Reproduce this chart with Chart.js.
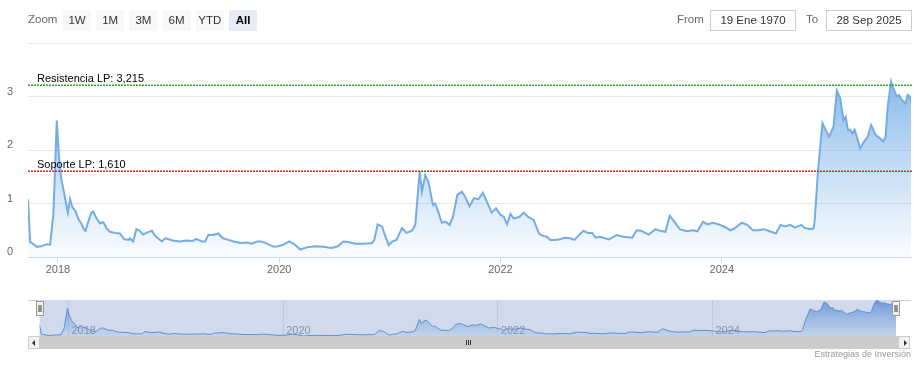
<!DOCTYPE html>
<html lang="es">
<head>
<meta charset="UTF-8">
<title>Histórico de cotización</title>
<script src="https://cdn.jsdelivr.net/npm/chart.js"></script>
<style>
  body { margin: 0; background: #fff; font-family: "Liberation Sans", Arial, sans-serif; }
  .wrap { position: relative; width: 922px; height: 367px; overflow: hidden; }
  canvas { position: absolute; left: 0; }
  #mainChart { top: 0; }
  #navChart { top: 290px; }
  .zoom-label { position: absolute; left: 28px; top: 13px; font-size: 11.5px; color: #666; }
  .range-btn { position: absolute; top: 10px; width: 28px; height: 21px; line-height: 21px; text-align: center;
               background: #f7f7f7; color: #333; font-size: 11.5px; }
  .range-btn.active { background: #e6ebf5; font-weight: bold; color: #000; }
  .date-label { position: absolute; top: 13px; font-size: 11.5px; color: #666; }
  .date-box { position: absolute; top: 10px; width: 86px; height: 21px; box-sizing: border-box; border: 1px solid #ccc;
              font-size: 11.5px; color: #333; text-align: center; line-height: 19px; }
  .sb-btn { position: absolute; top: 336px; width: 12px; height: 13px; box-sizing: border-box;
            background: #f2f2f2; border: 1px solid #ccc; }
  .sb-bar { position: absolute; top: 336px; left: 40px; width: 858px; height: 13px; background: #ccc; }
  .grip { position: absolute; top: 340px; width: 1px; height: 5px; background: #333; }
  .arrow { position: absolute; top: 3px; width: 0; height: 0; border-top: 3px solid transparent; border-bottom: 3px solid transparent; }
  .credits { position: absolute; right: 11px; top: 349px; font-size: 9px; color: #999; }
</style>
</head>
<body>
<div class="wrap">
  <canvas id="mainChart" width="922" height="290"></canvas>
  <canvas id="navChart" width="922" height="60"></canvas>

  <div class="zoom-label">Zoom</div>
  <div id="buttons"></div>

  <div class="date-label" style="left:677px">From</div>
  <div class="date-box" id="fromBox" style="left:710px"></div>
  <div class="date-label" style="left:806px">To</div>
  <div class="date-box" id="toBox" style="left:826px"></div>

  <div class="sb-bar"></div>
  <div class="sb-btn" style="left:28px"><div class="arrow" style="left:3px;border-right:3px solid #333"></div></div>
  <div class="sb-btn" style="left:898px"><div class="arrow" style="left:5px;border-left:3px solid #333"></div></div>
  <div class="grip" style="left:466px"></div>
  <div class="grip" style="left:468px"></div>
  <div class="grip" style="left:470px"></div>

  <div class="credits">Estrategias de Inversión</div>
</div>

<script>
// fechas en años decimales
const dates = [
  2017.73, 2017.75, 2017.76, 2017.81, 2017.85, 2017.90, 2017.93, 2017.96, 2017.99, 2018.01,
  2018.03, 2018.06, 2018.09, 2018.11, 2018.13, 2018.16, 2018.19, 2018.21, 2018.24, 2018.25,
  2018.27, 2018.30, 2018.32, 2018.35, 2018.38, 2018.41, 2018.44, 2018.47, 2018.52, 2018.56,
  2018.60, 2018.64, 2018.65, 2018.68, 2018.71, 2018.74, 2018.77, 2018.80, 2018.85, 2018.88,
  2018.94, 2018.97, 2019.04, 2019.10, 2019.16, 2019.22, 2019.25, 2019.30, 2019.33, 2019.36,
  2019.40, 2019.45, 2019.49, 2019.54, 2019.59, 2019.65, 2019.71, 2019.75, 2019.80, 2019.84,
  2019.89, 2019.95, 2019.99, 2020.04, 2020.09, 2020.13, 2020.19, 2020.25, 2020.32, 2020.40,
  2020.47, 2020.53, 2020.58, 2020.62, 2020.69, 2020.76, 2020.84, 2020.86, 2020.89, 2020.93,
  2020.95, 2020.99, 2021.02, 2021.06, 2021.11, 2021.15, 2021.20, 2021.23, 2021.27, 2021.29,
  2021.32, 2021.35, 2021.39, 2021.41, 2021.44, 2021.47, 2021.50, 2021.54, 2021.57, 2021.61,
  2021.65, 2021.68, 2021.72, 2021.76, 2021.80, 2021.84, 2021.88, 2021.92, 2021.96, 2022.00,
  2022.03, 2022.06, 2022.09, 2022.12, 2022.17, 2022.21, 2022.25, 2022.30, 2022.35, 2022.39,
  2022.42, 2022.45, 2022.49, 2022.54, 2022.58, 2022.63, 2022.67, 2022.70, 2022.75, 2022.79,
  2022.83, 2022.86, 2022.90, 2022.98, 2023.05, 2023.11, 2023.19, 2023.23, 2023.27, 2023.34,
  2023.40, 2023.44, 2023.49, 2023.53, 2023.57, 2023.62, 2023.68, 2023.74, 2023.78, 2023.83,
  2023.87, 2023.92, 2023.97, 2024.02, 2024.08, 2024.12, 2024.18, 2024.23, 2024.28, 2024.33,
  2024.38, 2024.42, 2024.49, 2024.53, 2024.57, 2024.62, 2024.66, 2024.72, 2024.75, 2024.81,
  2024.83, 2024.84, 2024.87, 2024.91, 2024.94, 2024.97, 2025.01, 2025.04, 2025.07, 2025.10,
  2025.12, 2025.14, 2025.16, 2025.18, 2025.20, 2025.22, 2025.25, 2025.29, 2025.32, 2025.35,
  2025.39, 2025.43, 2025.46, 2025.48, 2025.50, 2025.53, 2025.55, 2025.58, 2025.60, 2025.63,
  2025.66, 2025.68, 2025.70, 2025.71
];
const values = [
  1.08, 0.27, 0.27, 0.19, 0.20, 0.24, 0.23, 0.82, 2.55, 1.87,
  1.47, 1.16, 0.83, 1.08, 0.94, 0.85, 0.69, 0.63, 0.50, 0.49,
  0.63, 0.82, 0.85, 0.72, 0.63, 0.65, 0.54, 0.47, 0.45, 0.44,
  0.33, 0.32, 0.35, 0.29, 0.52, 0.49, 0.42, 0.45, 0.49, 0.39,
  0.29, 0.35, 0.31, 0.29, 0.31, 0.30, 0.34, 0.29, 0.29, 0.41,
  0.41, 0.44, 0.35, 0.32, 0.29, 0.26, 0.27, 0.25, 0.29, 0.29,
  0.25, 0.19, 0.20, 0.23, 0.29, 0.25, 0.14, 0.18, 0.20, 0.19,
  0.17, 0.20, 0.29, 0.28, 0.25, 0.25, 0.26, 0.32, 0.61, 0.57,
  0.44, 0.22, 0.29, 0.32, 0.54, 0.45, 0.49, 0.60, 1.60, 1.22,
  1.53, 1.40, 0.97, 1.00, 0.83, 0.64, 0.66, 0.60, 0.75, 1.16,
  1.22, 1.13, 0.95, 1.10, 1.08, 1.20, 1.02, 0.83, 0.91, 0.79,
  0.75, 0.61, 0.81, 0.72, 0.75, 0.83, 0.75, 0.69, 0.43, 0.39,
  0.38, 0.32, 0.32, 0.33, 0.36, 0.35, 0.32, 0.39, 0.49, 0.45,
  0.45, 0.36, 0.38, 0.33, 0.41, 0.38, 0.36, 0.50, 0.49, 0.42,
  0.52, 0.49, 0.47, 0.77, 0.66, 0.52, 0.48, 0.50, 0.48, 0.66,
  0.61, 0.64, 0.61, 0.57, 0.50, 0.54, 0.64, 0.60, 0.50, 0.50,
  0.52, 0.49, 0.44, 0.60, 0.57, 0.60, 0.55, 0.60, 0.54, 0.52,
  0.54, 0.69, 1.63, 2.50, 2.37, 2.25, 2.44, 3.11, 2.97, 2.56,
  2.62, 2.37, 2.38, 2.31, 2.38, 2.25, 2.03, 2.17, 2.25, 2.47,
  2.28, 2.22, 2.16, 2.25, 2.81, 3.28, 3.15, 3.00, 3.03, 2.93,
  2.87, 3.03, 3.00, 2.87
];

const xTickYears = [2018, 2020, 2022, 2024];
const plotLineNames = ['Resistencia LP', 'Soporte LP'];
const plotLineValues = [3.215, 1.610];
const rangeButtons = ['1W', '1M', '3M', '6M', 'YTD', 'All'];
const fromDate = '19 Ene 1970';
const toDate = '28 Sep 2025';

// colores de las líneas de resistencia/soporte
const plotLineColors = ['rgb(40,170,40)', 'rgb(220,40,40)'];

// botones e inputs
const btnWrap = document.getElementById('buttons');
rangeButtons.forEach((b, i) => {
  const el = document.createElement('div');
  el.className = 'range-btn' + (b === 'All' ? ' active' : '');
  el.style.left = (63 + i * 33.2) + 'px';
  el.textContent = b;
  btnWrap.appendChild(el);
});
document.getElementById('fromBox').textContent = fromDate;
document.getElementById('toBox').textContent = toDate;

Chart.defaults.font.family = '"Liberation Sans", Arial, sans-serif';
Chart.defaults.font.size = 11;

const points = dates.map((d, i) => ({ x: d, y: values[i] }));
const xMin = dates[0];
const xMax = dates[dates.length - 1];

function areaGradient(topColor, bottomColor) {
  return (context) => {
    const area = context.chart.chartArea;
    if (!area) return bottomColor;
    const g = context.chart.ctx.createLinearGradient(0, area.top, 0, area.bottom);
    g.addColorStop(0, topColor);
    g.addColorStop(1, bottomColor);
    return g;
  };
}

// líneas punteadas de resistencia y soporte
const plotLinePlugin = {
  id: 'plotLines',
  afterDatasetsDraw(chart) {
    const { ctx, chartArea, scales } = chart;
    plotLineValues.forEach((v, i) => {
      const y = Math.round(scales.y.getPixelForValue(v));
      ctx.save();
      ctx.fillStyle = plotLineColors[i];
      for (let x = Math.round(chartArea.left); x < chartArea.right; x += 3) {
        ctx.fillRect(x, y - 0.5, 2, 1.5);
      }
      ctx.fillStyle = '#000';
      ctx.font = '11px "Liberation Sans", Arial, sans-serif';
      ctx.fillText(plotLineNames[i] + ': ' + v.toFixed(3).replace('.', ','), chartArea.left + 9, y - 3);
      ctx.restore();
    });
  }
};

new Chart(document.getElementById('mainChart'), {
  type: 'line',
  data: {
    datasets: [{
      data: points,
      borderColor: '#74ade4',
      borderWidth: 2,
      pointRadius: 0,
      tension: 0,
      fill: 'origin',
      backgroundColor: areaGradient('rgba(104,165,228,0.95)', 'rgba(124,181,236,0.04)')
    }]
  },
  options: {
    responsive: false,
    animation: false,
    events: [],
    layout: { padding: { top: 43, right: 11, left: 0, bottom: 0 } },
    plugins: {
      legend: { display: false },
      tooltip: { enabled: false }
    },
    scales: {
      x: {
        type: 'linear',
        min: xMin,
        max: xMax,
        afterBuildTicks: (s) => { s.ticks = xTickYears.map(v => ({ value: v })); },
        afterFit: (s) => { s.height = 33; },
        grid: { drawOnChartArea: false, drawTicks: true, tickLength: 6, color: '#ccd6eb' },
        border: { color: '#ccd6eb' },
        ticks: { color: '#666', padding: 0, maxRotation: 0, callback: (v) => String(v) }
      },
      y: {
        min: 0,
        max: 4,
        afterFit: (s) => { s.width = 28; },
        grid: { color: '#e6e6e6', drawTicks: false },
        border: { display: false },
        ticks: { stepSize: 1, color: '#666', padding: 15, labelOffset: -5,
                 callback: (v) => (v === 4 ? '' : String(v)) }
      }
    }
  },
  plugins: [plotLinePlugin]
});

// navegador
const navPlugin = {
  id: 'navDecor',
  afterDatasetsDraw(chart) {
    const { ctx, chartArea: a } = chart;
    ctx.save();
    ctx.fillStyle = 'rgba(102,133,194,0.3)';
    ctx.fillRect(a.left, a.top, a.right - a.left, a.bottom - a.top);
    ctx.strokeStyle = '#cccccc';
    ctx.lineWidth = 1;
    ctx.beginPath();
    ctx.moveTo(28, a.top + 0.5); ctx.lineTo(a.left, a.top + 0.5);
    ctx.moveTo(a.right, a.top + 0.5); ctx.lineTo(911, a.top + 0.5);
    ctx.stroke();
    [a.left, a.right].forEach(x => {
      const hx = Math.round(x) - 3.5;
      ctx.fillStyle = '#f2f2f2';
      ctx.strokeStyle = '#999';
      ctx.fillRect(hx, 11.5, 7, 14);
      ctx.strokeRect(hx, 11.5, 7, 14);
      ctx.strokeStyle = '#333';
      ctx.beginPath();
      ctx.moveTo(hx + 2.5, 15); ctx.lineTo(hx + 2.5, 22);
      ctx.moveTo(hx + 4.5, 15); ctx.lineTo(hx + 4.5, 22);
      ctx.stroke();
    });
    ctx.restore();
  }
};

new Chart(document.getElementById('navChart'), {
  type: 'line',
  data: {
    datasets: [{
      data: points,
      borderColor: '#5f95d3',
      borderWidth: 1,
      pointRadius: 0,
      tension: 0,
      fill: 'start',
      backgroundColor: areaGradient('rgba(95,150,220,0.9)', 'rgba(124,181,236,0.15)')
    }]
  },
  options: {
    responsive: false,
    animation: false,
    events: [],
    layout: { padding: { top: 10, left: 39.5, right: 26, bottom: 0 } },
    plugins: { legend: { display: false }, tooltip: { enabled: false } },
    scales: {
      x: {
        type: 'linear',
        min: xMin,
        max: xMax,
        afterBuildTicks: (s) => { s.ticks = xTickYears.map(v => ({ value: v })); },
        afterFit: (s) => { s.height = 14; },
        grid: { color: '#e6e6e6', drawTicks: false },
        border: { display: false },
        ticks: { color: '#999', mirror: true, padding: -1.5, align: 'start', labelOffset: 3, maxRotation: 0,
                 callback: (v) => String(v) }
      },
      y: { display: false, bounds: 'data' }
    }
  },
  plugins: [navPlugin]
});
</script>
</body>
</html>
